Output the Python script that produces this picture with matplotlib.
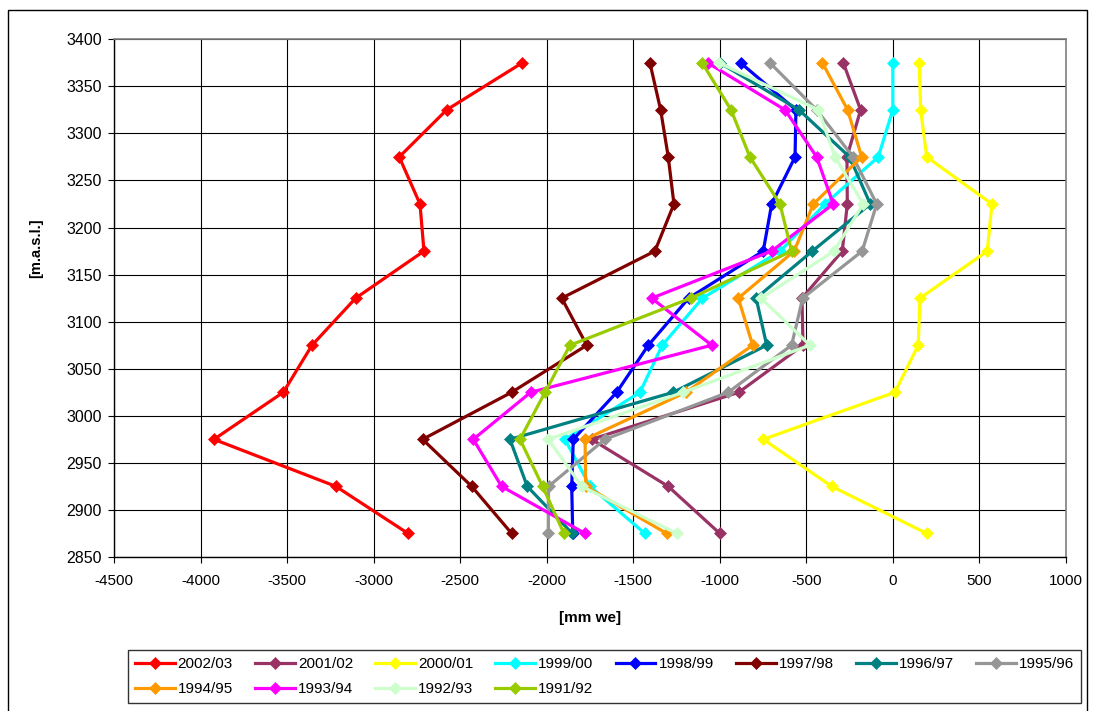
import matplotlib
matplotlib.use("Agg")
import matplotlib.pyplot as plt
from matplotlib.patches import Rectangle

plt.rcParams['font.family'] = ['Liberation Sans', 'DejaVu Sans']

elevation = [2875, 2925, 2975, 3025, 3075, 3125, 3175, 3225, 3275, 3325, 3375]

years = ["2002/03", "2001/02", "2000/01", "1999/00", "1998/99", "1997/98",
         "1996/97", "1995/96", "1994/95", "1993/94", "1992/93", "1991/92"]

b2002_03 = [-2802, -3219, -3924, -3523, -3357, -3105, -2710, -2733, -2853, -2579, -2142]
b2001_02 = [-1000, -1298, -1741, -890, -519, -525, -292, -263, -265, -186, -286]
b2000_01 = [196, -353, -749, 12, 147, 157, 546, 573, 196, 161, 153]
b1999_00 = [-1433, -1750, -1895, -1461, -1333, -1100, -650, -392, -84, 0, 0]
b1998_99 = [-1850, -1856, -1847, -1596, -1413, -1180, -749, -700, -565, -560, -880]
b1997_98 = [-2203, -2434, -2718, -2203, -1769, -1914, -1375, -1265, -1298, -1342, -1404]
b1996_97 = [-1853, -2113, -2213, -1269, -729, -790, -465, -130, -250, -542, -1000]
b1995_96 = [-1991, -1990, -1664, -951, -585, -521, -177, -93, -230, -440, -710]
b1994_95 = [-1307, -1775, -1779, -1196, -810, -893, -570, -459, -180, -261, -407]
b1993_94 = [-1779, -2261, -2425, -2093, -1047, -1394, -700, -344, -440, -623, -1070]
b1992_93 = [-1249, -1798, -1991, -1211, -479, -762, -340, -171, -334, -430, -1005]
b1991_92 = [-1901, -2024, -2155, -2010, -1866, -1168, -585, -652, -826, -935, -1102]

series = [b2002_03, b2001_02, b2000_01, b1999_00, b1998_99, b1997_98,
          b1996_97, b1995_96, b1994_95, b1993_94, b1992_93, b1991_92]

colors = ["#FF0000", "#993366", "#FFFF00", "#00FFFF", "#0000FF", "#800000",
          "#008080", "#969696", "#FF9900", "#FF00FF", "#CCFFCC", "#99CC00"]

x_ticks = list(range(-4500, 1001, 500))
y_ticks = list(range(2850, 3401, 50))

W, H = 1095, 711
fig = plt.figure(figsize=(W / 100, H / 100), dpi=100)
fig.patch.set_facecolor("white")

# outer chart border
fig.add_artist(Rectangle((8 / W, -0.05), (1087 - 8) / W, 1.05 - 10 / H,
                         transform=fig.transFigure, fill=False,
                         edgecolor="black", linewidth=1.0))

ax = fig.add_axes([114.3 / W, 1 - 557 / H, (1065.8 - 114.3) / W, (557 - 39.3) / H])

handles = []
for vals, c, lab in zip(series, colors, years):
    h, = ax.plot(vals, elevation, color=c, lw=2.3, marker="D", markersize=6.4,
                 markerfacecolor=c, markeredgecolor=c, markeredgewidth=0.5,
                 label=lab, zorder=3)
    handles.append(h)

ax.set_xlim(-4500, 1000)
ax.set_ylim(2850, 3400)
ax.set_xticks(x_ticks)
ax.set_yticks(y_ticks)
ax.set_xticklabels([str(v) for v in x_ticks])
ax.set_yticklabels([str(v) for v in y_ticks])
ax.grid(True, color="black", linewidth=0.8, zorder=0)
ax.set_axisbelow(True)

for s in ["top", "right"]:
    ax.spines[s].set_color("#808080")
    ax.spines[s].set_linewidth(1.2)
for s in ["left", "bottom"]:
    ax.spines[s].set_color("black")
    ax.spines[s].set_linewidth(1.0)

ax.tick_params(axis="both", direction="out", length=4, width=0.8,
               colors="black")
ax.tick_params(axis="y", pad=5, labelsize=11.5)
ax.tick_params(axis="x", pad=8, labelsize=11)

fig.text(36 / W, 1 - 248 / H, "[m.a.s.l.]", rotation=90, ha="center",
         va="center", fontsize=10.5, fontweight="bold")
fig.text(590 / W, 1 - 618 / H, "[mm we]", ha="center", va="center",
         fontsize=11, fontweight="bold")

order = [0, 8, 1, 9, 2, 10, 3, 11, 4, 5, 6, 7]
leg = fig.legend([handles[i] for i in order], [years[i] for i in order],
                 loc="upper left", bbox_to_anchor=(128 / W, 1 - 650 / H),
                 ncol=8, fontsize=11, frameon=True, fancybox=False,
                 edgecolor="black", handlelength=2.6, handletextpad=0.2,
                 columnspacing=1.45, labelspacing=0.75, borderpad=0.45,
                 borderaxespad=0)
leg.get_frame().set_linewidth(1.0)

fig.savefig("out.png", dpi=100, facecolor="white")
